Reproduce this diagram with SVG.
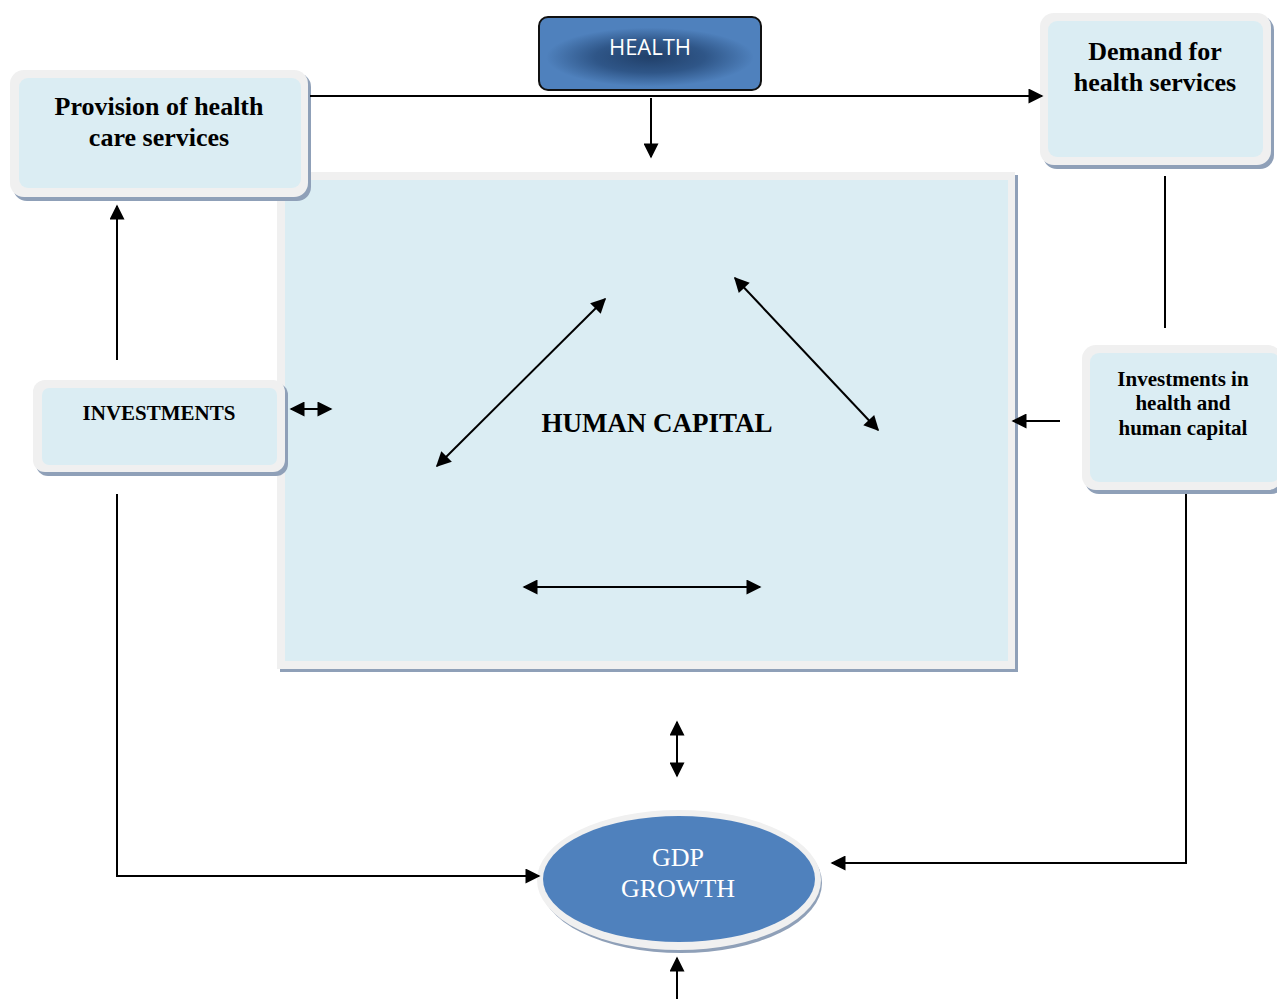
<svg xmlns="http://www.w3.org/2000/svg" width="1277" height="999" viewBox="0 0 1277 999">
  <style>
    .shadow { fill: #8fa0b8; }
    .frame { fill: #f0f0f0; }
    .panel { fill: #dbedf3; }
    .label { font-family: "Liberation Serif", "Times New Roman", serif; font-weight: bold; fill: #000; text-anchor: middle; }
    .wire { stroke: #000; stroke-width: 2; fill: none; }
    .arrow-end { marker-end: url(#head); }
    .arrow-both { marker-start: url(#head); marker-end: url(#head); }
  </style>
  <defs>
    <marker id="head" viewBox="0 0 10 10" refX="9" refY="5" markerWidth="8.5" markerHeight="7.5" markerUnits="strokeWidth" orient="auto-start-reverse">
      <path d="M0,0 L10,5 L0,10 Z" fill="#000"/>
    </marker>
    <radialGradient id="healthGlow" cx="0.5" cy="0.55" r="0.5" gradientTransform="translate(0.5 0.55) scale(1.1 0.95) translate(-0.5 -0.55)">
      <stop offset="0" stop-color="#21406a"/>
      <stop offset="0.45" stop-color="#2f5688"/>
      <stop offset="0.85" stop-color="#4f81bd"/>
      <stop offset="1" stop-color="#4f81bd"/>
    </radialGradient>
  </defs>

  <!-- Central human capital panel -->
  <g id="human-capital">
    <rect class="shadow" x="280" y="175" width="738" height="497"/>
    <rect class="frame" x="277" y="172" width="738" height="497"/>
    <rect class="panel" x="285" y="180" width="723" height="481"/>
    <text class="label" x="657" y="432" font-size="27">HUMAN CAPITAL</text>
  </g>

  <!-- Health header -->
  <g id="health">
    <rect x="539" y="17" width="222" height="73" rx="9" fill="url(#healthGlow)" stroke="#111" stroke-width="2"/>
    <text x="650" y="55" font-family="'Open Sans', 'Liberation Sans', sans-serif" font-size="22" fill="#fff" text-anchor="middle">HEALTH</text>
  </g>

  <!-- Provision of health care services -->
  <g id="provision">
    <rect class="shadow" x="13" y="73" width="298" height="128" rx="14"/>
    <rect class="frame" x="10" y="70" width="298" height="127" rx="14"/>
    <rect class="panel" x="19" y="78" width="282" height="110" rx="9"/>
    <text class="label" font-size="26"><tspan x="159" y="115">Provision of health</tspan><tspan x="159" y="146">care services</tspan></text>
  </g>

  <!-- Demand for health services -->
  <g id="demand">
    <rect class="shadow" x="1043" y="16" width="231" height="153" rx="14"/>
    <rect class="frame" x="1040" y="13" width="231" height="152" rx="14"/>
    <rect class="panel" x="1048" y="21" width="215" height="136" rx="9"/>
    <text class="label" font-size="26"><tspan x="1155" y="60">Demand for</tspan><tspan x="1155" y="91">health services</tspan></text>
  </g>

  <!-- Investments -->
  <g id="investments">
    <rect class="shadow" x="36" y="383" width="252" height="93" rx="12"/>
    <rect class="frame" x="33" y="380" width="252" height="92" rx="12"/>
    <rect class="panel" x="42" y="388" width="235" height="77" rx="7"/>
    <text class="label" x="159" y="420" font-size="21">INVESTMENTS</text>
  </g>

  <!-- Investments in health and human capital -->
  <g id="investments-health">
    <rect class="shadow" x="1085" y="348" width="200" height="146" rx="14"/>
    <rect class="frame" x="1082" y="345" width="200" height="145" rx="14"/>
    <rect class="panel" x="1090" y="353" width="190" height="129" rx="9"/>
    <text class="label" font-size="21"><tspan x="1183" y="386">Investments in</tspan><tspan x="1183" y="410">health and</tspan><tspan x="1183" y="435">human capital</tspan></text>
  </g>

  <!-- GDP growth -->
  <g id="gdp-growth">
    <ellipse cx="681" cy="883" rx="141" ry="70" fill="#8fa0b8"/>
    <ellipse cx="679" cy="880" rx="142" ry="70" fill="#f0f0f0"/>
    <ellipse cx="679" cy="879" rx="136" ry="63" fill="#4f81bd"/>
    <text font-family="'Liberation Serif', 'Times New Roman', serif" font-size="26" fill="#fff" text-anchor="middle"><tspan x="678" y="866">GDP</tspan><tspan x="678" y="897">GROWTH</tspan></text>
  </g>

  <!-- Connectors -->
  <g id="connectors">
    <line class="wire arrow-end" x1="310" y1="96" x2="1042" y2="96"/>
    <line class="wire arrow-end" x1="651" y1="98" x2="651" y2="157"/>
    <line class="wire" x1="1165" y1="176" x2="1165" y2="328"/>
    <line class="wire arrow-end" x1="1060" y1="421" x2="1013" y2="421"/>
    <polyline class="wire arrow-end" points="1186,494 1186,863 832,863"/>
    <line class="wire arrow-end" x1="117" y1="360" x2="117" y2="206"/>
    <line class="wire arrow-both" x1="291" y1="409" x2="331" y2="409"/>
    <polyline class="wire arrow-end" points="117,494 117,876 539,876"/>
    <line class="wire arrow-both" x1="437" y1="466" x2="605" y2="299"/>
    <line class="wire arrow-both" x1="735" y1="278" x2="878" y2="430"/>
    <line class="wire arrow-both" x1="524" y1="587" x2="760" y2="587"/>
    <line class="wire arrow-both" x1="677" y1="722" x2="677" y2="776"/>
    <line class="wire arrow-end" x1="677" y1="999" x2="677" y2="958"/>
  </g>
</svg>
